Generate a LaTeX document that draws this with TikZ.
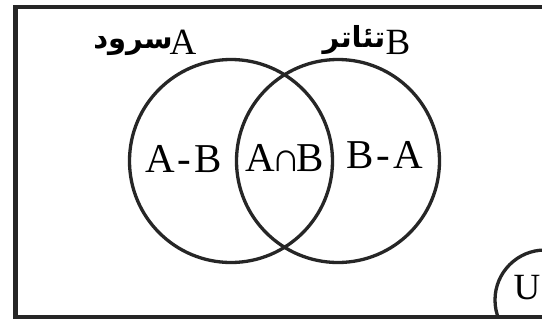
\documentclass[tikz,border=0pt]{standalone}
\usepackage{fontspec}
\setmainfont{Liberation Serif}
\newfontfamily\arabicfont[Script=Arabic]{DejaVu Sans}
\TeXXeTstate=1
\begin{document}
\begin{tikzpicture}[x=1pt, y=-1pt]
    \tikzset{setcirc/.style={circle, draw=black!85, line width=3.3pt,
                             minimum size=203pt, inner sep=0pt},
             ucirc/.style={circle, draw=black!85, line width=3.3pt,
                           minimum size=100pt, inner sep=0pt},
             region/.style={font=\fontsize{41}{44}\selectfont, inner sep=0pt},
             setname/.style={font=\fontsize{37}{40}\selectfont, inner sep=0pt},
             arname/.style={font=\arabicfont\bfseries\fontsize{29}{32}\selectfont, inner sep=0pt}}
    \useasboundingbox (0,0) rectangle (542,322);
    \clip (0,0) rectangle (542,322);
    \fill[white] (0,0) rectangle (542,322);
    \draw[line width=4.5pt, draw=black!85] (15.5,7) rectangle (560,317);
    \node[setcirc] (setA) at (231,161) {};
    \node[setcirc] (setB) at (338,161) {};
    \begin{scope}
      \clip (15.5,0) rectangle (560,317);
      \node[ucirc] (setU) at (545,300) {};
    \end{scope}
    \node[region] (onlyA) at (183.5,159.5) {A\kern3pt-\kern3pt B};
    \node[region] (both) at (285,158) {A\kern-4pt∩\kern-4pt B};
    \node[region] (onlyB) at (384.5,155) {B\kern3pt-\kern3pt A};
    \node[setname] (nameA) at (183,42) {A};
    \node[setname] (nameB) at (398,42) {B};
    \node[arname] (wordA) at (133,46) {\beginR سرود\endR};
    \node[arname] (wordB) at (354,40) {\beginR تئاتر\endR};
    \node[setname] (nameU) at (527,288) {U};
\end{tikzpicture}
\end{document}
